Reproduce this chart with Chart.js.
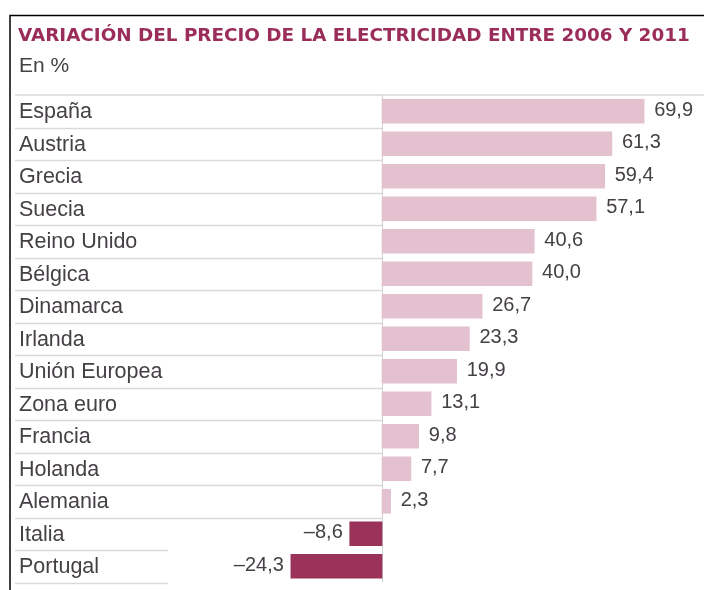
<!DOCTYPE html>
<html>
<head>
<meta charset="utf-8">
<script src="https://cdn.jsdelivr.net/npm/chart.js@4"></script>
<style>
html,body{margin:0;padding:0;background:#fff;}
#wrap{position:relative;width:704px;height:590px;}
</style>
</head>
<body>
<div id="wrap"><canvas id="c" width="704" height="590"></canvas></div>
<script>
const titleText = "VARIACIÓN DEL PRECIO DE LA ELECTRICIDAD ENTRE 2006 Y 2011";
const subtitleText = "En %";
const categories = ["España","Austria","Grecia","Suecia","Reino Unido","Bélgica","Dinamarca","Irlanda","Unión Europea","Zona euro","Francia","Holanda","Alemania","Italia","Portugal"];
const values = [69.9,61.3,59.4,57.1,40.6,40.0,26.7,23.3,19.9,13.1,9.8,7.7,2.3,-8.6,-24.3];
const valueLabels = ["69,9","61,3","59,4","57,1","40,6","40,0","26,7","23,3","19,9","13,1","9,8","7,7","2,3","–8,6","–24,3"];

const POS = "rgb(227,193,207)";
const NEG = "rgb(154,50,90)";
const GRID = "#d9d9d9";
const TXT = "#454045";

const decor = {
  id: "decor",
  beforeDatasetsDraw(chart) {
    const ctx = chart.ctx;
    const y = chart.scales.y, x = chart.scales.x;
    const ca = chart.chartArea;
    const x0 = x.getPixelForValue(0);
    ctx.save();
    // frame
    ctx.strokeStyle = "#000";
    ctx.lineWidth = 1.5;
    ctx.beginPath();
    ctx.moveTo(10, 590); ctx.lineTo(10, 15.5); ctx.lineTo(704, 15.5);
    ctx.stroke();
    // title, fitted to the reference width
    ctx.fillStyle = "rgb(155,45,90)";
    ctx.textBaseline = "alphabetic";
    ctx.textAlign = "left";
    ctx.font = "bold 16px 'DejaVu Sans'";
    const w16 = ctx.measureText(titleText).width;
    const fs = 16 * 672 / w16;
    ctx.font = "bold " + fs.toFixed(2) + "px 'DejaVu Sans'";
    ctx.fillText(titleText, 18, 41);
    ctx.fillStyle = TXT;
    ctx.font = "21px 'Liberation Sans'";
    ctx.fillText(subtitleText, 19, 72);
    // top separator
    ctx.strokeStyle = GRID;
    ctx.lineWidth = 1.5;
    ctx.beginPath();
    ctx.moveTo(15, ca.top); ctx.lineTo(704, ca.top);
    ctx.stroke();
    // row separators
    const step = y.getPixelForValue(1) - y.getPixelForValue(0);
    for (let i = 0; i < categories.length; i++) {
      const yb = y.getPixelForValue(i) + step / 2;
      const xe = values[i] >= 0 ? x0 : 168;
      ctx.beginPath();
      ctx.moveTo(15, Math.round(yb) + 0.5); ctx.lineTo(xe, Math.round(yb) + 0.5);
      ctx.stroke();
    }
    // zero line
    ctx.strokeStyle = "#d0d0d0";
    ctx.lineWidth = 1;
    ctx.beginPath();
    ctx.moveTo(Math.round(x0) + 0.5, ca.top); ctx.lineTo(Math.round(x0) + 0.5, ca.bottom);
    ctx.stroke();
    ctx.restore();
  },
  afterDatasetsDraw(chart) {
    const ctx = chart.ctx;
    const y = chart.scales.y, x = chart.scales.x;
    ctx.save();
    ctx.fillStyle = TXT;
    ctx.textBaseline = "middle";
    for (let i = 0; i < categories.length; i++) {
      const yc = y.getPixelForValue(i);
      ctx.font = "21.5px 'Liberation Sans'";
      ctx.textAlign = "left";
      ctx.fillText(categories[i], 19, yc + 1);
      const xv = x.getPixelForValue(values[i]);
      ctx.font = "20px 'Liberation Sans'";
      if (values[i] >= 0) {
        ctx.textAlign = "left";
        ctx.fillText(valueLabels[i], xv + 10, yc - 1);
      } else {
        ctx.textAlign = "right";
        ctx.fillText(valueLabels[i], xv - 7, yc - 1);
      }
    }
    ctx.restore();
  }
};

new Chart(document.getElementById("c"), {
  type: "bar",
  data: {
    labels: categories,
    datasets: [{
      data: values,
      backgroundColor: values.map(v => v >= 0 ? POS : NEG),
      borderWidth: 0,
      barThickness: 24
    }]
  },
  options: {
    indexAxis: "y",
    responsive: false,
    animation: false,
    events: [],
    layout: { padding: { top: 95, bottom: 7.5, left: 18, right: 4 } },
    plugins: { legend: { display: false }, tooltip: { enabled: false } },
    scales: {
      x: { display: false, min: -97.07, max: 84.8 },
      y: { display: false, offset: true, grid: { display: false } }
    }
  },
  plugins: [decor]
});
</script>
</body>
</html>
